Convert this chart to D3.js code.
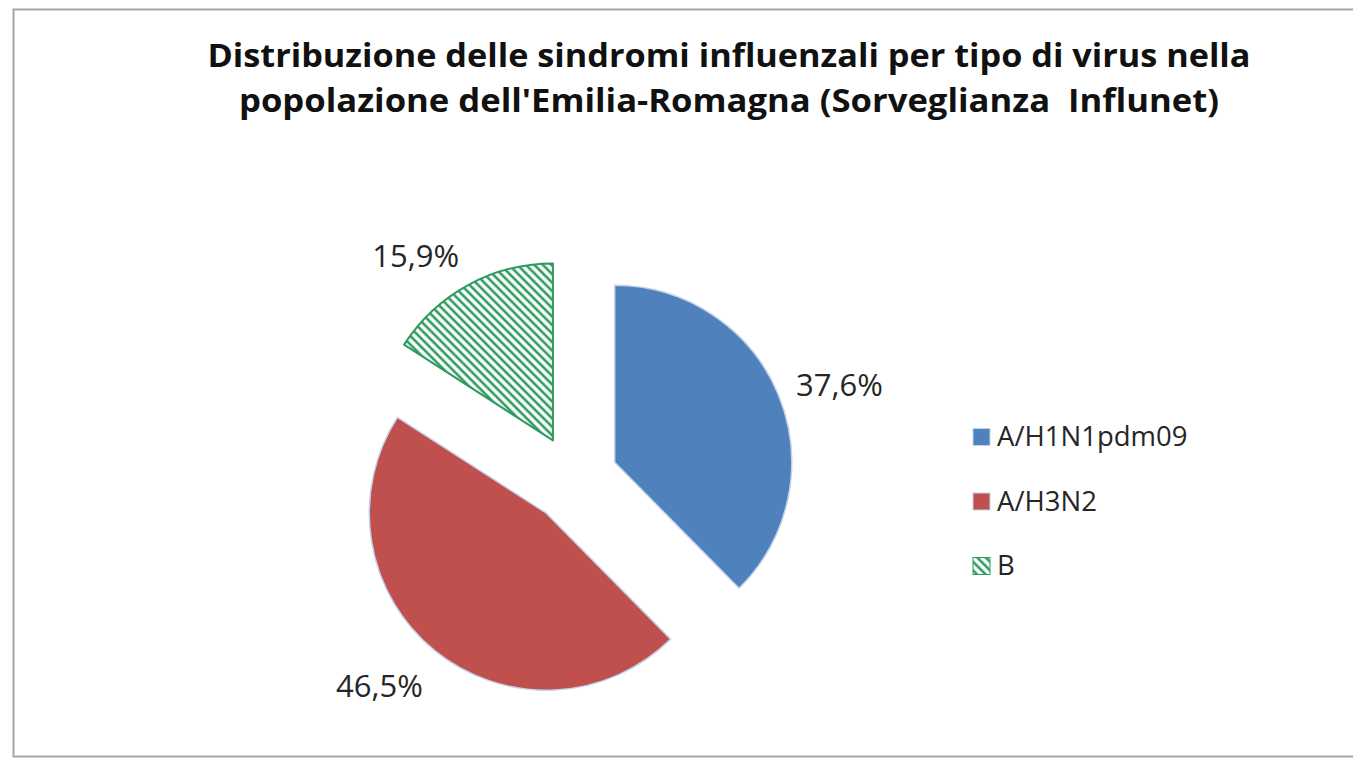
<!DOCTYPE html>
<head>
    <meta charset="utf-8">
    <title>Sindromi influenzali per tipo di virus</title>
    <script src="https://d3js.org/d3.v7.min.js"></script>
    <style>
        body{
            margin: 0;
            background: #fff;
        }
        svg{
            display: block;
        }
        text{
            font-family: "Open Sans", "Noto Sans", sans-serif;
            fill: #262626;
        }
        .title{
            white-space: pre;
        }
    </style>
</head>
<body>
    <svg id="chart" width="1353" height="761"></svg>

    <script>
        // Data
        var virusTypes = ["A/H1N1pdm09", "A/H3N2", "B"];
        var shares = [37.6, 46.5, 15.9];
        var titleLines = [
            "Distribuzione delle sindromi influenzali per tipo di virus nella",
            "popolazione dell'Emilia-Romagna (Sorveglianza  Influnet)"
        ];

        var svg = d3.select("#chart"),
            width = +svg.attr("width"),
            height = +svg.attr("height");

        // chart frame (right edge runs off the picture)
        svg.append("rect")
            .attr("x", 13.5).attr("y", 9.5)
            .attr("width", width).attr("height", 747)
            .attr("fill", "#fff")
            .attr("stroke", "#a6a6a6")
            .attr("stroke-width", 2);

        // hatch for slice B
        var defs = svg.append("defs");
        var hatch = defs.append("pattern")
            .attr("id", "hatch")
            .attr("patternUnits", "userSpaceOnUse")
            .attr("width", 6).attr("height", 6)
            .attr("patternTransform", "rotate(-45)");
        hatch.append("rect").attr("width", 6).attr("height", 6).attr("fill", "#fff");
        hatch.append("line")
            .attr("x1", 3).attr("y1", 0).attr("x2", 3).attr("y2", 6)
            .attr("stroke", "#2f9a5e").attr("stroke-width", 2.6);

        var fills = d3.scaleOrdinal()
            .domain(virusTypes)
            .range(["#4f81bd", "#c0504d", "url(#hatch)"]);
        var strokes = d3.scaleOrdinal()
            .domain(virusTypes)
            .range(["#c3d3ea", "#c3d3ea", "#2f9a5e"]);

        // title
        svg.selectAll(".title")
            .data(titleLines)
            .enter()
            .append("text")
            .attr("class", "title")
            .attr("x", 729)
            .attr("y", (d, i) => 67 + i * 45)
            .attr("text-anchor", "middle")
            .attr("font-size", 33)
            .attr("font-weight", "bold")
            .attr("textLength", (d, i) => i == 0 ? 1043 : 980)
            .attr("lengthAdjust", "spacingAndGlyphs")
            .style("fill", "#111")
            .text(d => d);

        // pie
        var cx = 574, cy = 479, radius = 177, explode = 44;

        var pie = d3.pie().sort(null).value(d => d.value);
        var arc = d3.arc().innerRadius(0).outerRadius(radius);

        var slices = pie(virusTypes.map((k, i) => ({key: k, value: shares[i]})));

        var g = svg.append("g").attr("transform", "translate(" + cx + "," + cy + ")");

        function offset(d, r){
            var a = (d.startAngle + d.endAngle) / 2;
            return [Math.sin(a) * r, -Math.cos(a) * r];
        }

        g.selectAll("path")
            .data(slices)
            .enter()
            .append("path")
            .attr("transform", d => "translate(" + offset(d, explode) + ")")
            .attr("d", arc)
            .attr("fill", d => fills(d.data.key))
            .attr("stroke", d => strokes(d.data.key))
            .attr("stroke-width", d => d.data.key == "B" ? 2 : 1.5)
            .attr("stroke-linejoin", "round");

        // percentage labels, placed just outside each slice
        g.selectAll(".lab")
            .data(slices)
            .enter()
            .append("text")
            .attr("class", "lab")
            .attr("font-size", 31)
            .text(d => d3.format(".1f")(d.data.value).replace(".", ",") + "%")
            .each(function(d){
                var a = (d.startAngle + d.endAngle) / 2;
                var bb = this.getBBox();
                var p = offset(d, explode + 196);
                var x = p[0] + Math.sign(Math.sin(a)) * bb.width / 2;
                var y = p[1] - Math.cos(a) * 20;
                d3.select(this)
                    .attr("x", x)
                    .attr("y", y + 16)
                    .attr("text-anchor", "middle");
            });

        // legend
        var legend = svg.selectAll(".legend")
            .data(virusTypes)
            .enter()
            .append("g")
            .attr("class", "legend")
            .attr("transform", (d, i) => "translate(973," + (437 + i * 64.5) + ")");

        legend.append("rect")
            .attr("x", 0).attr("y", -8.5)
            .attr("width", 17).attr("height", 17)
            .attr("fill", d => fills(d))
            .attr("stroke", d => d == "B" ? "#2f9a5e" : "#c3d3ea")
            .attr("stroke-width", 1);

        legend.append("text")
            .attr("x", 24)
            .attr("y", 9)
            .attr("font-size", 27.5)
            .text(d => d);
    </script>
</body>
</html>
